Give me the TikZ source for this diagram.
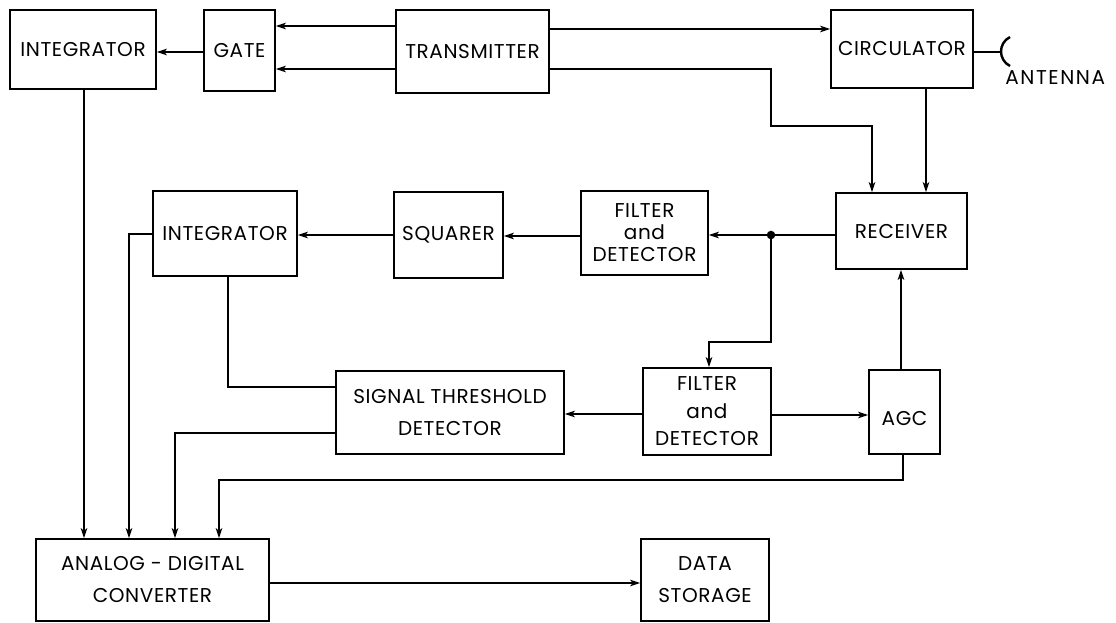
\documentclass[tikz,border=0pt]{standalone}
\usepackage{fontspec}
\setmainfont{Poppins}[LetterSpace=3]
\usetikzlibrary{arrows.meta}
\begin{document}
\begin{tikzpicture}[x=0.75pt,y=-0.75pt,
  block/.style={draw,line width=1.4pt,inner sep=0pt,align=center,font=\fontsize{15}{24}\selectfont},
  link/.style={line width=1.1pt},
  feed/.style={link,-{Stealth[length=7.5pt,width=5pt,inset=2pt]}}]
\useasboundingbox (0,0) rectangle (1116,622);
% top row
\node[block,minimum width=109.5pt,minimum height=59.25pt] (integA) at (83,49.5) {INTEGRATOR};
\node[block,minimum width=53.25pt,minimum height=60.75pt] (gate) at (239.5,50.5) {GATE};
\node[block,minimum width=114.75pt,minimum height=62.25pt] (trans) at (472.5,51.5) {TRANSMITTER};
\node[block,minimum width=106.5pt,minimum height=58.5pt] (circ) at (902,49) {CIRCULATOR};
\node[anchor=west,inner sep=0pt,font=\fontsize{15}{17}\selectfont\addfontfeature{LetterSpace=8}] (antlbl) at (1005,78) {ANTENNA};
% middle row
\node[block,minimum width=108pt,minimum height=63.75pt] (integB) at (225,233.5) {INTEGRATOR};
\node[block,minimum width=81.75pt,minimum height=64.5pt] (squar) at (448.5,235) {SQUARER};
\node[block,minimum width=95.25pt,minimum height=63pt,font=\fontsize{15}{16.5}\selectfont] (filtA) at (644.5,233) {FILTER\\and\\DETECTOR};
\node[block,minimum width=98.25pt,minimum height=57pt] (recv) at (901.5,231) {RECEIVER};
% lower row
\node[block,minimum width=171pt,minimum height=62.25pt] (thresh) at (450,412.5) {SIGNAL THRESHOLD\\DETECTOR};
\node[block,minimum width=96pt,minimum height=65.25pt,font=\fontsize{15}{20.6}\selectfont] (filtB) at (707,411.5) {FILTER\\and\\DETECTOR};
\node[block,minimum width=53.25pt,minimum height=63pt,text height=20pt,text depth=0pt] (agc) at (904.5,412) {AGC};
% bottom row
\node[block,minimum width=174.75pt,minimum height=61.5pt] (adc) at (152.5,580) {ANALOG - DIGITAL\\CONVERTER};
\node[block,minimum width=96pt,minimum height=61.5pt] (store) at (705,580) {DATA\\STORAGE};
% antenna
\coordinate (ant) at (1002,52);
\draw[link] (circ.east |- ant) -- (ant);
\draw[line width=1.8pt] (1010,37) .. controls (998,43) and (998,60) .. (1010,66);
% transmitter paths
\draw[feed] (trans.west |- 0,26) -- (gate.east |- 0,26);
\draw[feed] (trans.west |- 0,69) -- (gate.east |- 0,69);
\draw[feed] (gate.west |- 0,52) -- (integA.east |- 0,52);
\draw[feed] (trans.east |- 0,29) -- (circ.west |- 0,29);
\draw[feed] (trans.east |- 0,69) -| (771,126) -| (recv.north -| 872,0);
\draw[feed] (circ.south -| 926,0) -- (recv.north -| 926,0);
% receiver outputs
\coordinate (tap) at (771,235);
\fill (tap) circle (3.2pt);
\draw[feed] (recv.west |- tap) -- (filtA.east |- tap);
\draw[feed] (filtA.west |- 0,236) -- (squar.east |- 0,236);
\draw[feed] (squar.west |- 0,235) -- (integB.east |- 0,235);
\draw[feed] (tap) |- (709,342) -- (filtB.north -| 709,0);
\draw[feed] (filtB.west |- 0,414) -- (thresh.east |- 0,414);
\draw[feed] (filtB.east |- 0,415) -- (agc.west |- 0,415);
\draw[feed] (agc.north -| 901,0) -- (recv.south -| 901,0);
\draw[link] (integB.south -| 228,0) |- (thresh.west |- 0,387);
% converter inputs
\draw[feed] (integA.south -| 84,0) -- (adc.north -| 84,0);
\draw[feed] (integB.west |- 0,234) -| (adc.north -| 129,0);
\draw[feed] (thresh.west |- 0,433) -| (adc.north -| 175,0);
\draw[feed] (agc.south -| 903,0) -- (903,480) -| (adc.north -| 219,0);
\draw[feed] (adc.east |- 0,583) -- (store.west |- 0,583);
\end{tikzpicture}
\end{document}
